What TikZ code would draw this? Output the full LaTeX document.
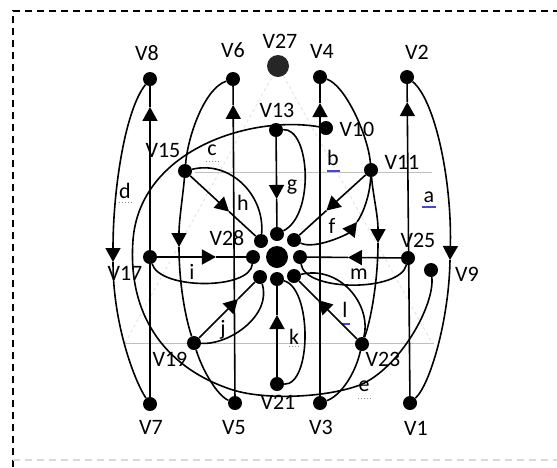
\documentclass[tikz,border=0pt]{standalone}
\usepackage{fontspec}
\setmainfont{Carlito}
\usetikzlibrary{arrows.meta,calc,backgrounds}
\definecolor{ulblue}{RGB}{70,70,210}
\tikzset{
  dot/.style={circle,fill=black,inner sep=0pt,minimum size=14pt},
  bigdot/.style={circle,fill=black,inner sep=0pt,minimum size=22pt},
  lbl/.style={inner sep=0pt,font=\fontsize{22}{24}\selectfont},
  edge/.style={line width=1.6pt},
  arr/.style={edge,-{Triangle[width=15pt,length=14pt]}},
  ulb/.style={ulblue,line width=1.2pt},
  ulg/.style={black!45,line width=1pt,dotted},
}
\begin{document}
\begin{tikzpicture}[x=1pt,y=-1pt]
\useasboundingbox (0,0) rectangle (557,467);
% dots
\node[dot] (V8) at (150,79) {};
\node[dot] (V6) at (233,79) {};
\node[bigdot,fill=black!85] (V27) at (278,66) {};
\node[dot] (V4) at (320,77) {};
\node[dot] (V2) at (407,77) {};
\node[dot] (V13) at (276,130) {};
\node[dot] (V10) at (326,128) {};
\node[dot] (V15) at (185,171) {};
\node[dot] (V11) at (371,170) {};
\node[dot] (V17) at (150,257) {};
\node[dot] (V25) at (408,258) {};
\node[dot] (V9) at (431,270) {};
\node[dot] (V19) at (194,343) {};
\node[dot] (V23) at (362,344) {};
\node[dot] (V21) at (277,384) {};
\node[dot] (V7) at (150,404) {};
\node[dot] (V5) at (235,403) {};
\node[dot] (V3) at (320,403) {};
\node[dot] (V1) at (410,403) {};
\node[bigdot] (V28) at (277,257) {};
\node[dot] (rN) at (277,234) {};
\node[dot] (rNE) at (294,240) {};
\node[dot] (rE) at (300,257) {};
\node[dot] (rSE) at (294,276) {};
\node[dot] (rS) at (277,279) {};
\node[dot] (rSW) at (260,277) {};
\node[dot] (rW) at (253,257) {};
\node[dot] (rNW) at (261,241) {};
% vertex labels
\node[lbl] (tV8) at (147,53) {V8};
\node[lbl] (tV6) at (233,50) {V6};
\node[lbl] (tV27) at (280,41) {V27};
\node[lbl] (tV4) at (322,51) {V4};
\node[lbl] (tV2) at (417,52) {V2};
\node[lbl] (tV13) at (277,110) {V13};
\node[lbl] (tV10) at (357,129) {V10};
\node[lbl] (tV15) at (163,150) {V15};
\node[lbl] (tV11) at (402,162) {V11};
\node[lbl] (tV28) at (227,238) {V28};
\node[lbl] (tV17) at (125,273) {V17};
\node[lbl] (tV25) at (418,240) {V25};
\node[lbl] (tV9) at (467,274) {V9};
\node[lbl] (tV19) at (170,359) {V19};
\node[lbl] (tV23) at (383,359) {V23};
\node[lbl] (tV21) at (278,402) {V21};
\node[lbl] (tV7) at (151,427) {V7};
\node[lbl] (tV5) at (234,428) {V5};
\node[lbl] (tV3) at (321,427) {V3};
\node[lbl] (tV1) at (416,428) {V1};
% edge labels
\node[lbl] (la) at (429,197) {a};
\node[lbl] (lb) at (333,158) {b};
\node[lbl] (lc) at (212,150) {c};
\node[lbl] (ld) at (125,191) {d};
\node[lbl] (le) at (364,386) {e};
\node[lbl] (lf) at (332,226) {f};
\node[lbl] (lg) at (292,187) {g};
\node[lbl] (lh) at (243,203) {h};
\node[lbl] (li) at (192,272) {i};
\node[lbl] (lj) at (223,330) {j};
\node[lbl] (lk) at (294,337) {k};
\node[lbl] (ll) at (345,310) {l};
\node[lbl] (lm) at (359,274) {m};
% arrow tip positions
\coordinate (t8) at ($(V7)!0.914!(V8)$);
\coordinate (t6) at ($(V5)!0.92!(V6)$);
\coordinate (t4) at ($(V3)!0.92!(V4)$);
\coordinate (t2) at ($(V1)!0.923!(V2)$);
\coordinate (tg) at ($(V13)!0.663!(rN)$);
\coordinate (th) at ($(V15)!0.58!(rNW)$);
\coordinate (tf) at ($(V11)!0.58!(rNE)$);
\coordinate (ti) at ($(V17)!0.64!(rW)$);
\coordinate (tm) at ($(V25)!0.556!(rE)$);
\coordinate (tj) at ($(V19)!0.667!(rSW)$);
\coordinate (tk) at ($(V21)!0.657!(rS)$);
\coordinate (tl) at ($(V23)!0.647!(rSE)$);
\coordinate (tA) at (450,260);
\coordinate (tB) at (378,243);
\coordinate (tC) at (179,247);
\coordinate (tD) at (113,262);
\coordinate (tF) at (357,222);
\begin{scope}[on background layer]
% frame and faint background
\draw[line width=1.8pt,dash pattern=on 7pt off 5pt] (13,467) -- (13,11) -- (557,11);
\draw[black!15,line width=1.2pt,dash pattern=on 7pt off 5pt] (13,460) -- (557,460);
\draw[black!25,line width=1pt] (195,172) -- (432,172);
\draw[black!25,line width=1pt] (125,343) -- (434,343);
\draw[black!10,line width=1pt,dashed] (125,343) -- (V27) -- (432,343);
% underlines
\draw[ulb] (422,207) -- (436,207);
\draw[ulb] (327,171) -- (340,171);
\draw[ulb] (342,324) -- (350,324);
\draw[ulg] (206,161) -- (220,161);
\draw[ulg] (119,202) -- (132,202);
\draw[ulg] (358,398) -- (372,398);
\draw[ulg] (289,346) -- (300,346);
% vertical lines
\draw[arr] (V7) -- (t8); \draw[edge] (t8) -- (V8);
\draw[arr] (V5) -- (t6); \draw[edge] (t6) -- (V6);
\draw[arr] (V3) -- (t4); \draw[edge] (t4) -- (V4);
\draw[arr] (V1) -- (t2); \draw[edge] (t2) -- (V2);
% arc a
\draw[arr] (V2) .. controls (435,100) and (452,180) .. (tA);
\draw[edge] (tA) .. controls (449,320) and (430,385) .. (V1);
% arc b
\draw[edge] (V4) .. controls (345,85) and (368,135) .. (V11);
\draw[arr] (V11) .. controls (373,195) and (378,215) .. (tB);
\draw[edge] (tB) .. controls (378,280) and (371,320) .. (V23);
\draw[edge] (V23) .. controls (355,375) and (340,396) .. (V3);
% arc c
\draw[edge] (V6) .. controls (205,88) and (188,135) .. (V15);
\draw[arr] (V15) .. controls (183,195) and (179,220) .. (tC);
\draw[edge] (tC) .. controls (179,285) and (186,320) .. (V19);
\draw[edge] (V19) .. controls (203,372) and (218,396) .. (V5);
% arc d
\draw[arr] (V8) .. controls (125,110) and (113,190) .. (tD);
\draw[edge] (tD) .. controls (113,325) and (135,382) .. (V7);
% big curve e
\draw[edge] (V10) .. controls (250,115) and (140,150) .. (133,240)
  .. controls (127,320) and (170,370) .. (233,390)
  .. controls (265,400) and (325,398) .. (360,385)
  .. controls (400,368) and (435,305) .. (V9);
% spokes
\draw[arr] (V13) -- (tg); \draw[edge] (tg) -- (rN);
\draw[edge] (V13) .. controls (310,128) and (315,215) .. (rN);
\draw[arr] (V15) -- (th); \draw[edge] (th) -- (rNW);
\draw[edge] (V15) .. controls (230,160) and (265,195) .. (rNW);
\draw[arr] (V11) -- (tf); \draw[edge] (tf) -- (rNE);
\draw[arr] (rNE) .. controls (315,250) and (348,234) .. (tF);
\draw[edge] (tF) .. controls (363,214) and (370,195) .. (V11);
\draw[arr] (V17) -- (ti); \draw[edge] (ti) -- (rW);
\draw[edge] (V17) .. controls (160,290) and (250,290) .. (rW);
\draw[arr] (V25) -- (tm); \draw[edge] (tm) -- (rE);
\draw[edge] (rE) .. controls (305,292) and (400,292) .. (V25);
\draw[arr] (V19) -- (tj); \draw[edge] (tj) -- (rSW);
\draw[edge] (V19) .. controls (230,345) and (272,315) .. (rSW);
\draw[arr] (V21) -- (tk); \draw[edge] (tk) -- (rS);
\draw[edge] (rS) .. controls (312,288) and (312,385) .. (V21);
\draw[arr] (V23) -- (tl); \draw[edge] (tl) -- (rSE);
\draw[edge] (rSE) .. controls (340,265) and (372,305) .. (V23);
\end{scope}
\end{tikzpicture}
\end{document}
